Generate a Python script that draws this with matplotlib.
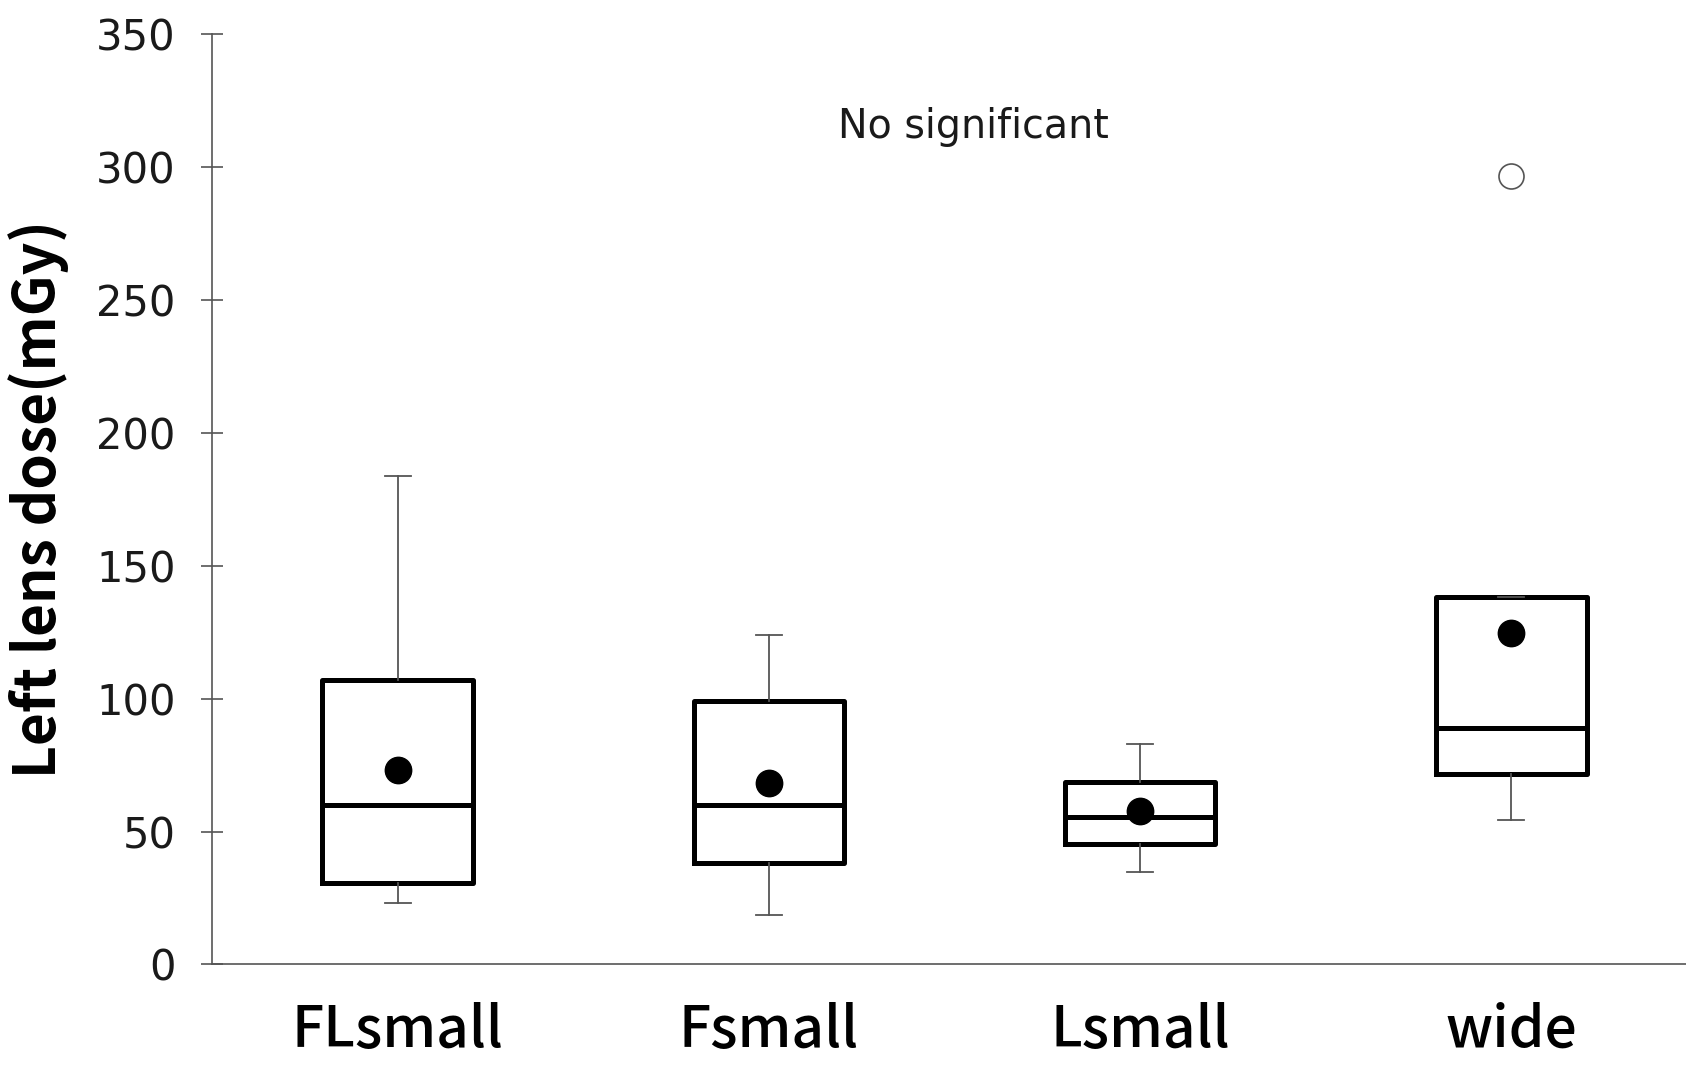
"""Left lens dose box plot per scan mode"""

import matplotlib
matplotlib.use("Agg")
import matplotlib.pyplot as plt

plt.rcParams['font.family'] = ['Noto Sans CJK JP', 'DejaVu Sans']

GROUPS = ["FLsmall", "Fsmall", "Lsmall", "wide"]
WHISKER_LOW = [23.1, 18.6, 34.8, 54.2]
Q1 = [30.8, 38.0, 45.3, 71.6]
MEDIAN = [59.9, 59.9, 55.4, 89.0]
Q3 = [107.2, 99.1, 68.8, 138.4]
WHISKER_HIGH = [183.7, 123.8, 82.9, 138.4]
MEAN = [73.2, 68.4, 57.9, 124.6]
OUTLIERS = [[], [], [], [296.6]]

AXIS_GRAY = "#555555"
TEXT_GRAY = "#1a1a1a"

# =============================================================================
stats = []
for i in range(len(GROUPS)):
    stats.append(dict(label=GROUPS[i], whislo=WHISKER_LOW[i], q1=Q1[i],
                      med=MEDIAN[i], q3=Q3[i], whishi=WHISKER_HIGH[i],
                      mean=MEAN[i], fliers=OUTLIERS[i]))

fig = plt.figure(figsize=(16.86, 10.65), dpi=100)
ax = fig.add_axes([0.1257, 0.0944, 0.8743, 0.8733])

ax.bxp(stats, positions=range(1, len(GROUPS) + 1), widths=0.405,
       showmeans=True, capwidths=0.07,
       boxprops=dict(color="black", linewidth=3.6),
       medianprops=dict(color="black", linewidth=3.6),
       whiskerprops=dict(color=AXIS_GRAY, linewidth=1.3),
       capprops=dict(color=AXIS_GRAY, linewidth=1.3),
       meanprops=dict(marker="o", markerfacecolor="black",
                      markeredgecolor="black", markersize=19),
       flierprops=dict(marker="o", markerfacecolor="white",
                       markeredgecolor=AXIS_GRAY, markersize=18,
                       markeredgewidth=1.2))

ax.set_xlim(0.5, 4.47)
ax.set_ylim(0, 350)
ax.set_yticks(range(0, 351, 50))

for side in ["top", "right"]:
    ax.spines[side].set_visible(False)
for side in ["left", "bottom"]:
    ax.spines[side].set_color(AXIS_GRAY)
    ax.spines[side].set_linewidth(1.2)

ax.tick_params(axis="y", direction="inout", length=16, width=1.2,
               color=AXIS_GRAY, labelsize=30, labelcolor=TEXT_GRAY, pad=18)
for lab in ax.get_yticklabels():
    lab.set_fontfamily("DejaVu Sans")
ax.tick_params(axis="x", length=0, labelsize=41, pad=27)
for lab in ax.get_xticklabels():
    lab.set_fontweight("medium")

ax.set_ylabel("Left lens dose(mGy)", fontsize=41, fontweight="bold")
ax.yaxis.set_label_coords(-0.097, 0.5)
ax.text(2.55, 315, "No significant", fontsize=28.5, ha="center", va="center",
        color=TEXT_GRAY, fontfamily="DejaVu Sans")

plt.savefig("out.png", dpi=100)
